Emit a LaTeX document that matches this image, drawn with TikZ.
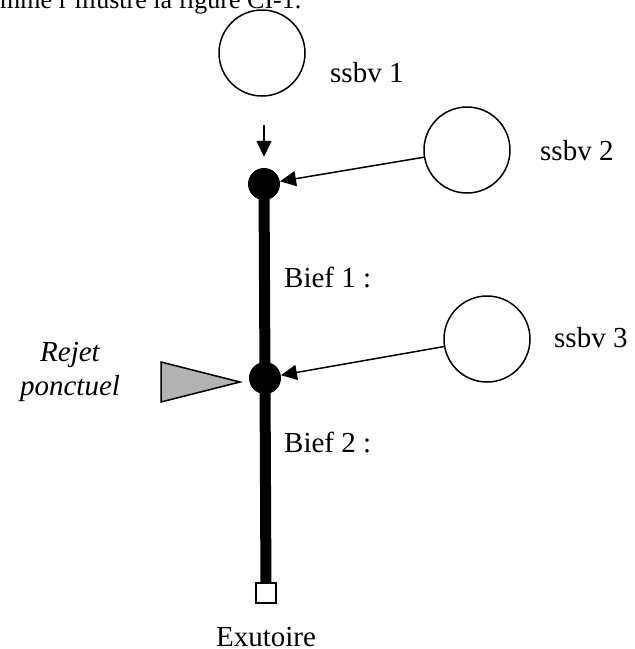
\documentclass[tikz,border=0pt]{standalone}
\usepackage{fontspec}
\setmainfont{Liberation Serif}
\usepackage{tikz}
\usetikzlibrary{positioning, arrows.meta, backgrounds}

\begin{document}
\begin{tikzpicture}[x=1pt,y=-1pt]
    \tikzset{bv/.style={draw,circle,line width=1.5pt,minimum size=86pt,inner sep=0pt}, dot/.style={circle,fill=black,minimum size=32pt,inner sep=0pt}, lbl/.style={anchor=base west,inner sep=0pt,font=\fontsize{29}{34}\selectfont}, arr/.style={-{Triangle[length=16pt,width=15pt]},line width=1.5pt}}
    \clip (0,0) rectangle (635,649);
    \node[lbl,font=\fontsize{26}{30}\selectfont] (txt) at (0,8) {mme l'illustre la figure CI-1.};
    % sous-bassins
    \node[bv] (b1) at (262,53) {};
    \node[bv] (b2) at (467,150) {};
    \node[bv] (b3) at (487,339) {};
    \node[lbl] (l1) at (330,82) {ssbv 1};
    \node[lbl] (l2) at (540,160) {ssbv 2};
    \node[lbl] (l3) at (554,347) {ssbv 3};
    % noeuds du reseau
    \node[dot] (n1) at (264,184) {};
    \node[dot] (n2) at (265,378) {};
    \node[draw,fill=white,line width=1.5pt,minimum size=20pt,inner sep=0pt] (ex) at (266,593) {};
    \coordinate (src) at (264,125);
    \begin{scope}[on background layer]
      \draw[line width=11pt] (n1.center) -- (n2.center) -- (ex.center);
    \end{scope}
    \draw[arr,shorten >=11pt] (src) -- (n1);
    \draw[arr] (b2) -- (n1); \draw[arr] (b3) -- (n2);
    \node[lbl] (bf1) at (284,287) {Bief 1 :};
    \node[lbl] (bf2) at (284,452) {Bief 2 :};
    \node[lbl,anchor=base] (exl) at (266,646) {Exutoire};
    % rejet
    \draw[fill=black!30,line width=1.5pt] (161,362) -- (240,382) -- (161,402) -- cycle;
    \node[font=\fontsize{29}{34}\selectfont\itshape,align=center,inner sep=0pt] (rj) at (70,372) {Rejet\\ponctuel};
  \end{tikzpicture}
\end{document}
